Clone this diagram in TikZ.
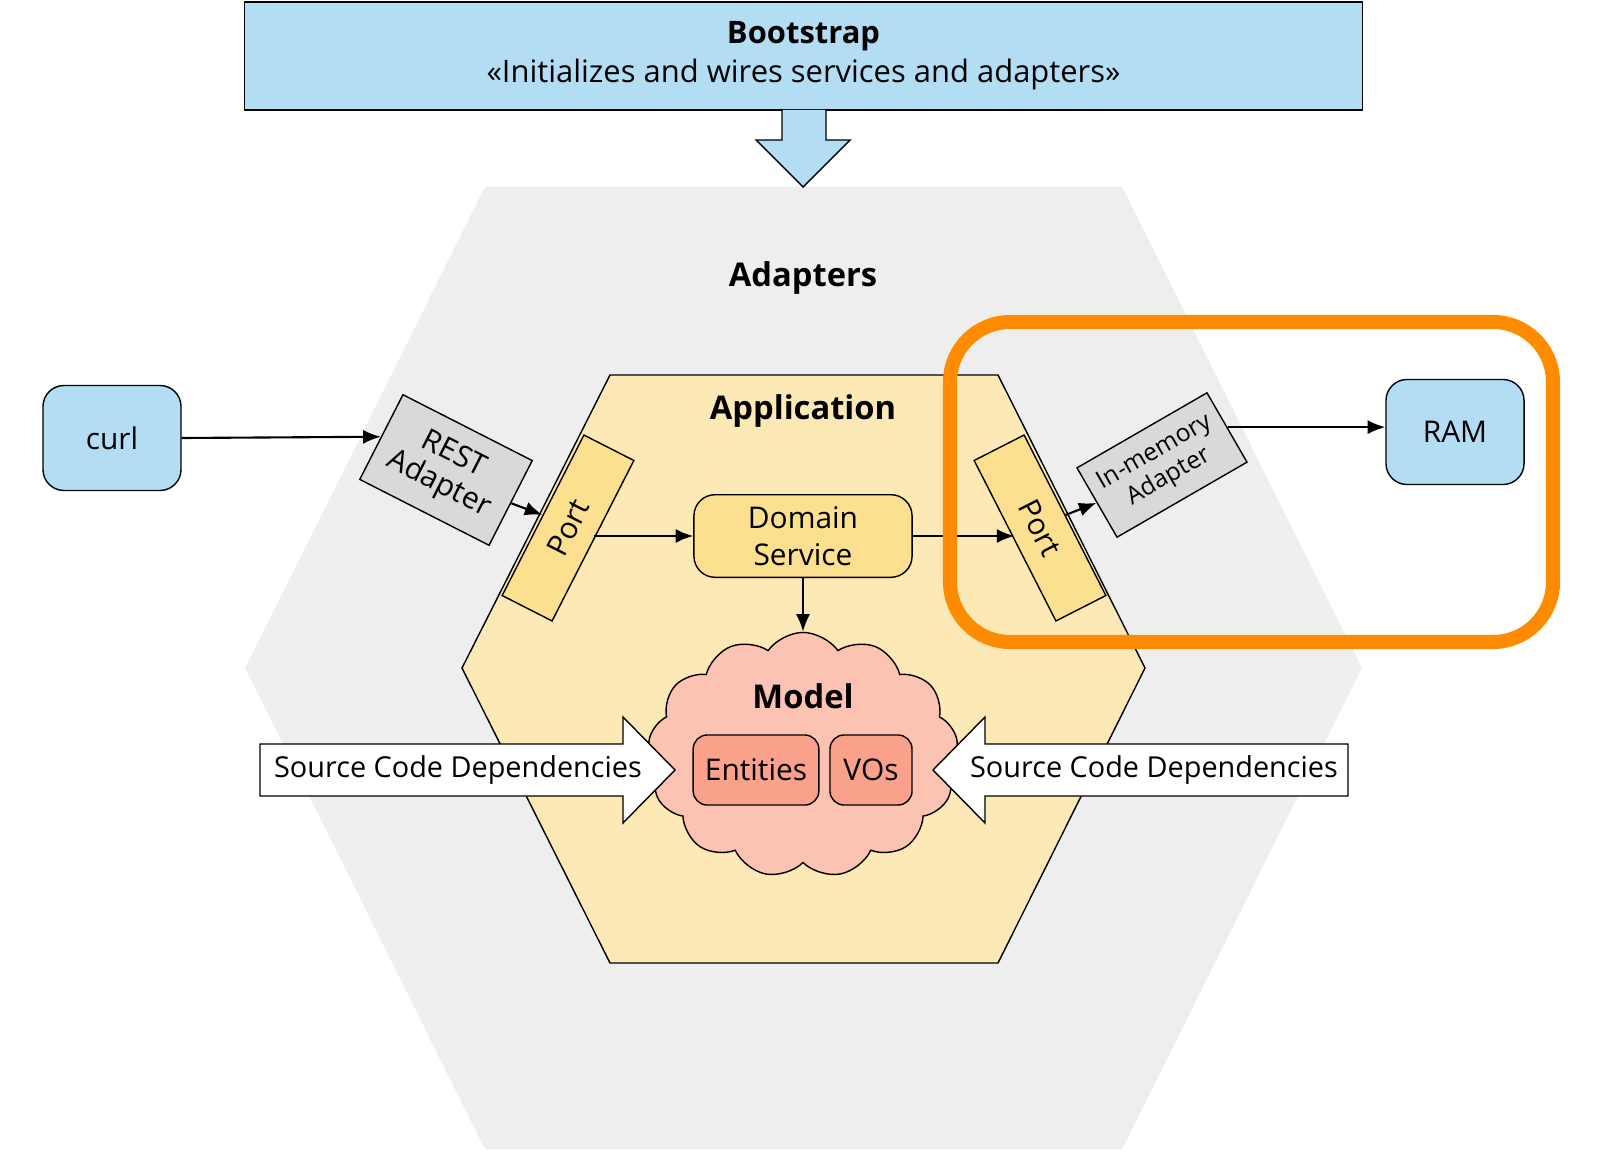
\documentclass[tikz,border=0pt]{standalone}
\usepackage{fontspec}
\setmainfont{Open Sans}
\usetikzlibrary{arrows.meta,shapes.symbols}

\definecolor{bootblue}{HTML}{B3DDF2}
\definecolor{hexgray}{HTML}{EEEEEE}
\definecolor{appyellow}{HTML}{FDE9B5}
\definecolor{portyellow}{HTML}{FDE08F}
\definecolor{adgray}{HTML}{D9D9D9}
\definecolor{cloudpink}{HTML}{FCC2B2}
\definecolor{entsalmon}{HTML}{F9A18A}
\definecolor{hilite}{HTML}{FF8C00}

\tikzset{
  txt/.style={font=\fontsize{8.5}{10.5}\selectfont},
  extbox/.style={draw=black,fill=bootblue,rounded corners=6pt,minimum width=1.38cm,minimum height=1.05cm,txt},
  portbox/.style={draw=black,fill=portyellow,minimum width=1.8cm,minimum height=0.56cm,txt},
  adbox/.style={draw=black,fill=adgray,align=center,inner sep=2pt},
  entbox/.style={draw=black,fill=entsalmon,rounded corners=4pt,minimum height=0.7cm,txt},
  flow/.style={-{Latex[length=5pt,width=4pt]},semithick},
}

\begin{document}
\begin{tikzpicture}[x=0.01cm,y=-0.01cm]
	\useasboundingbox (0,0) rectangle (1600,1176);

	% outer and inner hexagons
	\fill[hexgray] (485,187) -- (1122,187) -- (1362,668) -- (1122,1149) -- (485,1149) -- (245,668) -- cycle;
	\draw[fill=appyellow] (610,375) -- (998,375) -- (1145,668) -- (998,963) -- (610,963) -- (462,668) -- cycle;

	% bootstrap
	\node[draw=black,fill=bootblue,minimum width=11.17cm,minimum height=1.08cm,align=center,font=\fontsize{8.8}{11}\selectfont] (boot) at (803.5,56)
		{\textbf{Bootstrap}\\«Initializes and wires services and adapters»};
	\draw[fill=bootblue] (782,110) -- (782,140) -- (756,140) -- (803,187) -- (850,140) -- (826,140) -- (826,110);

	\node[font=\fontsize{9.3}{11}\selectfont\bfseries] (adapters) at (803,278) {Adapters};
	\node[font=\fontsize{9.3}{11}\selectfont\bfseries] (app) at (803,411) {Application};

	% outside world
	\node[extbox] (curl) at (112,438) {curl};
	\node[extbox] (ram) at (1455,432) {RAM};

	% adapters and ports
	\node[adbox,rotate=-27,minimum width=1.45cm,minimum height=0.95cm,font=\fontsize{8.5}{9.5}\selectfont] (rest) at (446,470) {REST\\Adapter};
	\node[adbox,rotate=30,minimum width=1.5cm,minimum height=0.8cm,inner sep=3pt,font=\fontsize{7}{8}\selectfont] (mem) at (1162,465) {In-memory\\Adapter};
	\node[portbox,rotate=63] (lport) at (568,528) {Port};
	\node[portbox,rotate=-63] (rport) at (1040,528) {Port};

	% domain
	\node[draw=black,fill=portyellow,rounded corners=6pt,minimum width=2.18cm,minimum height=0.82cm,align=center,txt] (dom) at (803,536) {Domain\\Service};
	\node[cloud,draw=black,fill=cloudpink,cloud puffs=13,cloud puff arc=110,minimum width=3.1cm,minimum height=2.45cm] (model) at (803,755) {};
	\node[font=\fontsize{9.3}{11}\selectfont\bfseries] (mlabel) at (803,696) {Model};
	\node[entbox,minimum width=1.23cm] (ent) at (756,770) {Entities};
	\node[entbox,minimum width=0.82cm] (vos) at (871,770) {VOs};

	% dependency arrows
	\draw[fill=white] (260,744) -- (623,744) -- (623,717) -- (675,770) -- (623,823) -- (623,796) -- (260,796) -- cycle;
	\draw[fill=white] (1348,744) -- (985,744) -- (985,717) -- (933,770) -- (985,823) -- (985,796) -- (1348,796) -- cycle;
	\node[font=\fontsize{8.2}{10}\selectfont] (ldep) at (458,770) {Source Code Dependencies};
	\node[font=\fontsize{8.2}{10}\selectfont] (rdep) at (1154,770) {Source Code Dependencies};

	% connectors
	\draw[flow] (curl.east) -- (rest.west);
	\draw[flow] (rest.east) -- (lport.north);
	\draw[flow] (lport.south |- dom.west) -- (dom.west);
	\draw[flow] (dom.east) -- (rport.south |- dom.east);
	\draw[flow] (rport.north) -- (mem.west);
	\draw[flow] (mem.east) -- (mem.east -| ram.west);
	\draw[flow] (dom.south) -- (model.north);

	% highlight
	\draw[hilite,line width=4pt,rounded corners=0.6cm] (950,322) rectangle (1553,642);
\end{tikzpicture}
\end{document}
